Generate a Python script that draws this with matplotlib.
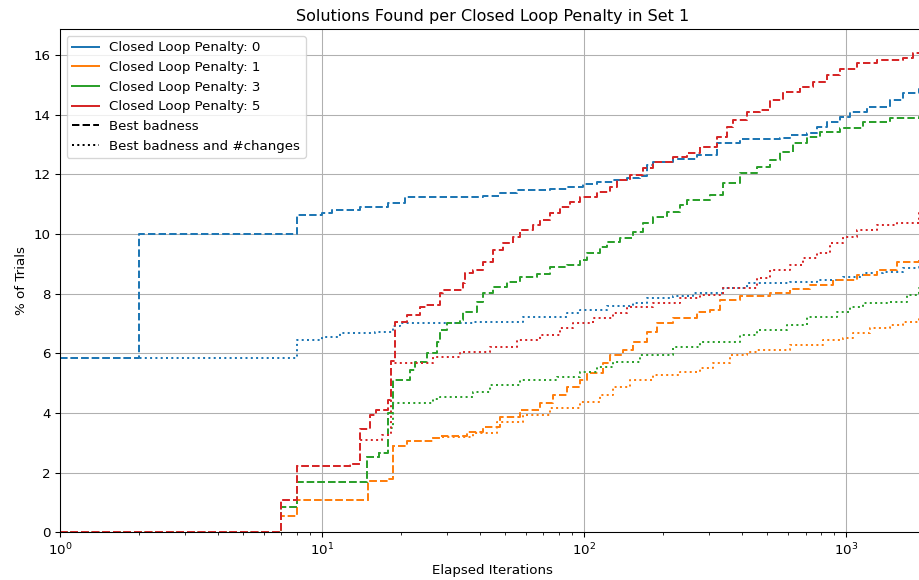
import numpy as np
import matplotlib
matplotlib.use("Agg")
import matplotlib.pyplot as plt
from matplotlib.lines import Line2D

# iterations / % of trials (step curves)
p0_best_it = [1, 2, 8, 10, 10.9, 14, 17.9, 20.7, 41.2, 47.8, 55.4, 74.2, 85.9, 99.1, 111.8, 129, 145.6, 163.6, 173.5,
              183.4, 218.6, 270, 321.9, 393.9, 560, 611.4, 709.8, 775, 846.3, 948.6, 1035.8, 1203, 1472, 1651, 1900, 2000]
p0_best = [5.83, 10.0, 10.63, 10.7, 10.8, 10.9, 11.04, 11.24, 11.27, 11.36, 11.48, 11.5, 11.59, 11.67, 11.75, 11.81,
           11.87, 11.94, 12.31, 12.42, 12.5, 12.65, 13.04, 13.17, 13.21, 13.32, 13.37, 13.58, 13.76, 13.93, 14.1, 14.27,
           14.49, 14.72, 14.85, 14.85]
p0_both_it = [1, 8, 10, 11.7, 15.9, 18.7, 19.8, 37.7, 58.5, 86.1, 96.5, 122.4, 153.8, 174, 218.6, 260.6, 339.3, 418.9,
              611.4, 775, 973.9, 1161.3, 1384, 1651, 1900, 2000]
p0_both = [5.83, 6.45, 6.56, 6.68, 6.73, 6.9, 7.0, 7.06, 7.23, 7.34, 7.45, 7.59, 7.68, 7.84, 7.92, 8.01, 8.18, 8.35,
           8.4, 8.46, 8.57, 8.68, 8.74, 8.85, 8.92, 8.92]

p1_best_it = [1, 7, 8, 15, 17.9, 18.7, 21.1, 26.5, 28.2, 35.8, 41.2, 47.8, 57, 67.9, 76.1, 86.1, 96.5, 102.7, 118.2,
              125.7, 140.9, 153.8, 174, 189.9, 218.6, 270, 302.7, 330.4, 393.9, 512.9, 611.4, 728.8, 892.1, 1101.6, 1313,
              1565, 1900, 2000]
p1_best = [0, 0.55, 1.1, 1.73, 1.78, 2.9, 3.07, 3.15, 3.23, 3.37, 3.54, 3.88, 4.1, 4.32, 4.6, 4.88, 5.1, 5.33, 5.67,
           5.94, 6.11, 6.39, 6.72, 7.0, 7.17, 7.4, 7.45, 7.79, 7.92, 8.01, 8.15, 8.29, 8.46, 8.63, 8.79, 9.07, 9.18, 9.18]
p1_both_it = [1, 7, 8, 15, 17.9, 18.7, 21.1, 26.5, 28.2, 37.7, 46.6, 58.5, 74.2, 96.5, 115.1, 129, 149.8, 183.4, 232.5,
              277.2, 311, 361, 419, 457.5, 611.4, 817, 973.9, 1063.4, 1235, 1472, 1651, 1900, 2000]
p1_both = [0, 0.55, 1.1, 1.73, 1.78, 2.9, 3.05, 3.15, 3.2, 3.32, 3.71, 3.93, 4.16, 4.38, 4.6, 4.88, 5.1, 5.27, 5.38,
           5.5, 5.67, 5.94, 6.05, 6.11, 6.28, 6.45, 6.5, 6.69, 6.84, 6.95, 7.06, 7.23, 7.23]

p3_best_it = [1, 7, 8, 14.8, 16.5, 17.9, 18.7, 21.7, 22.6, 25.1, 27.5, 28.2, 30, 33.6, 34.5, 39, 41.2, 44.9, 50.8, 57,
              66.2, 74.2, 86.1, 96.5, 102.7, 115.1, 122.4, 137.2, 153.8, 168, 183.4, 207.4, 232.5, 247.3, 302.7, 339.3,
              393.9, 457.5, 512.9, 560, 627.7, 709.8, 795.7, 948.6, 1161.3, 1472, 1900, 2000]
p3_best = [0, 0.86, 1.69, 2.53, 2.65, 4.0, 5.1, 5.44, 5.72, 6.0, 6.39, 6.78, 7.0, 7.12, 7.4, 7.73, 8.01, 8.23, 8.4,
           8.57, 8.66, 8.88, 8.96, 9.13, 9.35, 9.57, 9.74, 9.86, 10.08, 10.36, 10.58, 10.75, 10.97, 11.14, 11.31, 11.7,
           12.03, 12.26, 12.48, 12.76, 13.04, 13.26, 13.43, 13.54, 13.76, 13.88, 13.93, 13.93]
p3_both_it = [1, 7, 8, 14.8, 16.5, 17.9, 18.7, 26.5, 28.2, 37.7, 43.8, 57, 78.9, 96.5, 112.1, 129, 163.6, 218.6, 277.2,
              393.9, 457.5, 595.5, 709.8, 923.9, 1035.8, 1161.3, 1472, 1709, 1900, 2000]
p3_both = [0, 0.86, 1.69, 2.53, 2.65, 3.5, 4.33, 4.47, 4.55, 4.71, 4.94, 5.1, 5.22, 5.38, 5.55, 5.72, 5.94, 6.22, 6.39,
           6.61, 6.78, 6.95, 7.23, 7.4, 7.56, 7.68, 7.73, 7.95, 8.18, 8.18]

p5_best_it = [1, 7, 8, 12.8, 14, 15.2, 16, 17.9, 18.3, 19.0, 21.1, 23.6, 25, 28.2, 29, 34.5, 35.1, 37.7, 41.2, 44.9,
              49.1, 53.6, 57, 63.9, 67.9, 74.2, 81, 88.4, 96.5, 111.8, 125.7, 133.3, 149.8, 168, 183.4, 218.6, 247.3,
              277.2, 321.9, 351.4, 370.5, 418.9, 469.7, 512.9, 574.9, 667.4, 748.2, 846.3, 948.6, 1101.6, 1313, 1651,
              1802, 2000]
p5_best = [0, 1.1, 2.22, 2.3, 3.45, 3.93, 4.1, 4.43, 5.75, 7.06, 7.28, 7.56, 7.62, 8.01, 8.12, 8.35, 8.68, 8.79, 9.07,
           9.46, 9.69, 9.91, 10.13, 10.3, 10.47, 10.69, 10.92, 11.08, 11.25, 11.42, 11.59, 11.81, 11.98, 12.2, 12.42,
           12.59, 12.73, 12.93, 13.26, 13.6, 13.82, 14.1, 14.15, 14.49, 14.77, 14.94, 15.1, 15.33, 15.52, 15.72, 15.83,
           15.89, 16.06, 16.06]
p5_both_it = [1, 7, 8, 12.8, 14, 16.9, 18.3, 26.5, 33.6, 43.8, 55.5, 67.9, 81, 90.8, 108.2, 129, 145.9, 183.4, 232.5,
              277.2, 339.3, 457.5, 512.9, 611.4, 685.3, 775, 868.9, 973.9, 1101.6, 1313, 1565, 1900, 2000]
p5_both = [0, 1.1, 2.22, 2.3, 3.09, 3.26, 5.67, 5.89, 6.05, 6.22, 6.45, 6.61, 6.84, 7.0, 7.17, 7.34, 7.56, 7.68, 7.84,
           7.95, 8.18, 8.51, 8.79, 8.96, 9.18, 9.35, 9.69, 9.91, 10.13, 10.3, 10.36, 10.7, 10.7]

penalties = [0, 1, 3, 5]
colors = ["tab:blue", "tab:orange", "tab:green", "tab:red"]
best_runs = [(p0_best_it, p0_best), (p1_best_it, p1_best), (p3_best_it, p3_best), (p5_best_it, p5_best)]
both_runs = [(p0_both_it, p0_both), (p1_both_it, p1_both), (p3_both_it, p3_both), (p5_both_it, p5_both)]

fig = plt.figure(figsize=(919 / 96, 580 / 96), dpi=96)
ax = fig.add_axes([60 / 919, 0.0822, 865 / 919, 0.8672])

for c, (x1, y1), (x2, y2) in zip(colors, best_runs, both_runs):
    ax.plot(x1, y1, drawstyle="steps-post", linestyle="--", color=c, linewidth=1.5)
    ax.plot(x2, y2, drawstyle="steps-post", linestyle=":", color=c, linewidth=1.5)

ax.set_xscale("log")
ax.set_xlim(1, 2000)
ax.set_ylim(0, 16.86)
ax.set_yticks(np.arange(0, 17, 2))
ax.grid(True, which="major")
ax.set_title("Solutions Found per Closed Loop Penalty in Set 1", fontsize=12)
ax.set_xlabel("Elapsed Iterations")
ax.set_ylabel("% of Trials")

handles = [Line2D([0], [0], color=c, linestyle="-") for c in colors]
labels = [f"Closed Loop Penalty: {p}" for p in penalties]
handles += [Line2D([0], [0], color="black", linestyle="--"), Line2D([0], [0], color="black", linestyle=":")]
labels += ["Best badness", "Best badness and #changes"]
ax.legend(handles, labels, loc="upper left")

fig.savefig("out.png", dpi=96)
